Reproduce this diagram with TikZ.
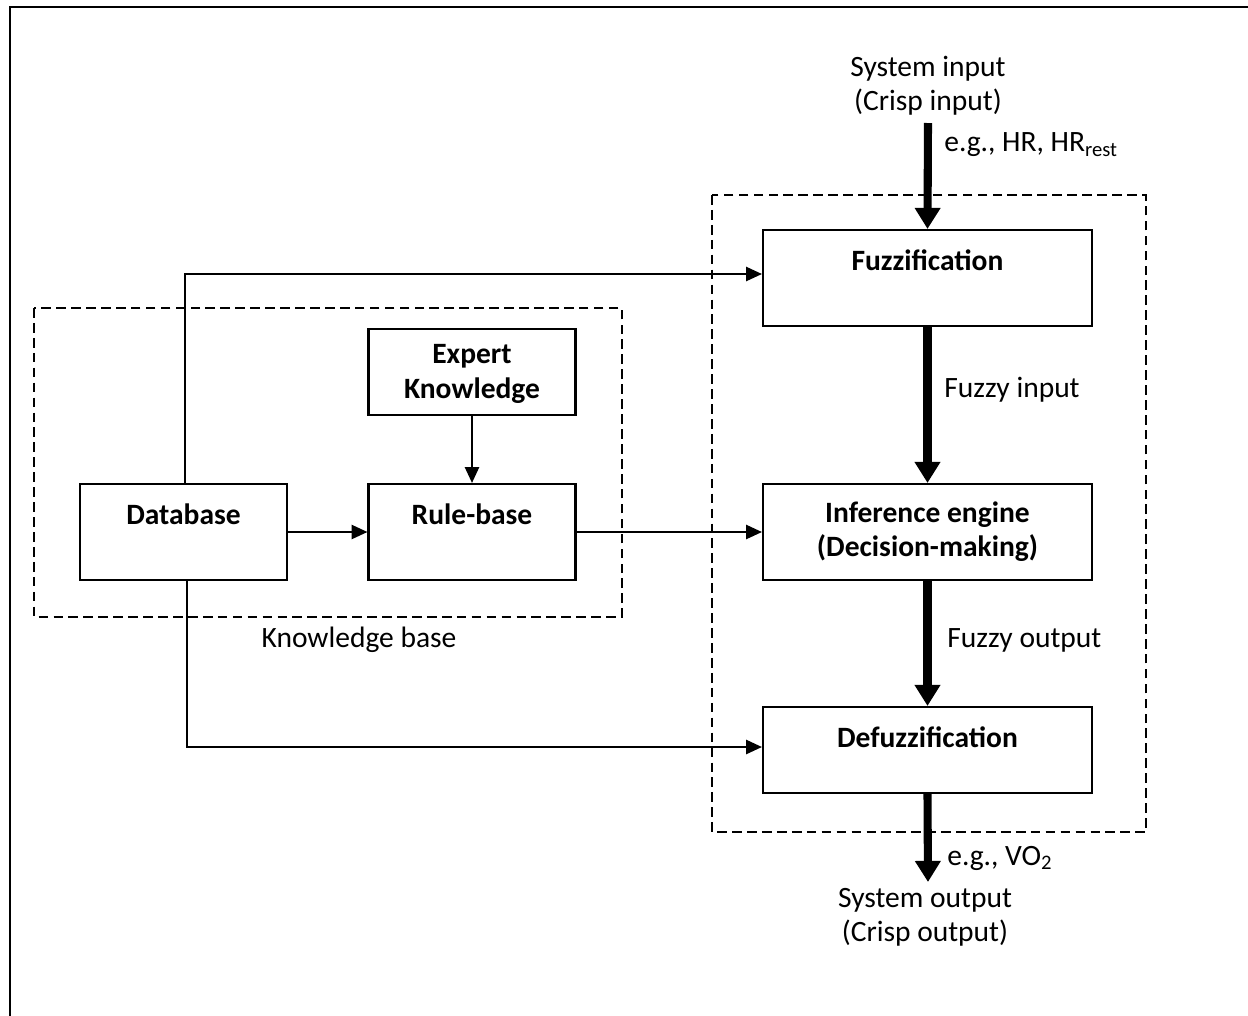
\documentclass[tikz,border=0pt]{standalone}
\usepackage{fontspec}
\setmainfont{Carlito}
\usetikzlibrary{arrows.meta}
\begin{document}
\begin{tikzpicture}[x=0.02cm,y=-0.02cm,
  every node/.style={font=\fontsize{16.8}{19.5}\selectfont},
  block/.style={draw,line width=1.2pt,minimum width=4.14cm,minimum height=1.92cm,inner sep=0pt},
  wideblock/.style={block,minimum width=6.58cm},
  blocktext/.style={font=\fontsize{16.8}{19.5}\selectfont\bfseries,align=center},
  thin/.style={line width=1.2pt,-{Triangle[length=9pt,width=8pt]}},
  thick/.style={line width=4.6pt,-{Triangle[length=12pt,width=14pt]}},
  group/.style={draw,line width=0.8pt,dash pattern=on 5.5pt off 3pt},
  plain/.style={align=center,inner sep=0pt}]
\useasboundingbox (0,0) rectangle (1248,1015);
% outer frame
\draw[line width=1.6pt] (10,1040) -- (10,7) -- (1270,7);

% dashed groupings
\draw[group] (34,308) rectangle (622,617);
\draw[group] (712,195) rectangle (1146,832);

% right column blocks
\node[wideblock] (fuzz) at (927.5,278) {};
\node[blocktext] at (927.5,260) {Fuzzification};
\node[wideblock] (inf) at (927.5,532) {};
\node[blocktext] at (927.5,532) {Inference engine\\(Decision-making)};
\node[wideblock,minimum height=1.72cm] (defuzz) at (927.5,750) {};
\node[blocktext] at (927.5,737) {Defuzzification};

% knowledge base blocks
\node[block,minimum height=1.72cm] (expert) at (472,372) {};
\node[blocktext] at (472,374) {Expert\\Knowledge};
\node[block] (db) at (183.5,532) {};
\node[blocktext] at (183.5,514) {Database};
\node[block] (rule) at (472,532) {};
\node[blocktext] at (472,514) {Rule-base};
\node[plain] (kb) at (359,640) {Knowledge base};

% system input / output
\node[plain] (sysin) at (928,86) {System input\\(Crisp input)};
\coordinate (inTop) at (928,123);
\node[plain,anchor=west] (egin) at (944,145) {e.g., HR, HR\textsubscript{rest}};
\node[plain] (sysout) at (925,917) {System output\\(Crisp output)};
\coordinate (outEnd) at (928,882);
\node[plain,anchor=west] (egout) at (947,858) {e.g., VO\textsubscript{2}};
\node[plain,anchor=west] (fin) at (944,390) {Fuzzy input};
\node[plain,anchor=west] (fout) at (947,640) {Fuzzy output};

% main signal path
\draw[thick] (inTop) -- (fuzz.north);
\draw[thick] (fuzz.south) -- (inf.north);
\draw[thick] (inf.south) -- (defuzz.north);
\draw[thick] (defuzz.south) -- (outEnd);

% knowledge connections
\draw[thin] (expert.south) -- (rule.north);
\draw[thin] (db.east) -- (rule.west);
\draw[thin] (rule.east) -- (inf.west);
\draw[thin] ([xshift=0.03cm]db.north) |- ([yshift=0.08cm]fuzz.west);
\draw[thin] ([xshift=0.07cm]db.south) |- ([yshift=0.06cm]defuzz.west);
\end{tikzpicture}
\end{document}
